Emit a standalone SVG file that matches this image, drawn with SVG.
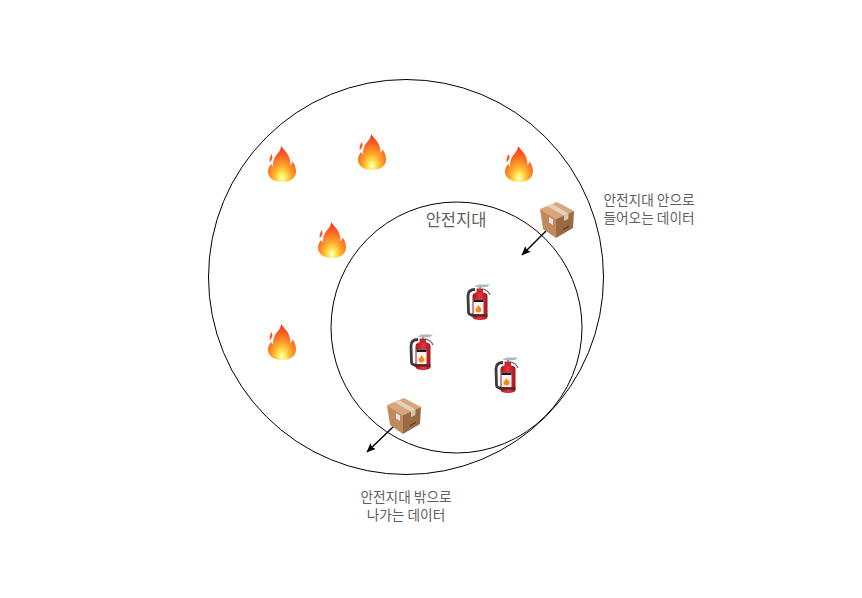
<svg xmlns="http://www.w3.org/2000/svg" width="862" height="598" viewBox="0 0 862 598">
<style>
.ring{fill:none;stroke:#000;stroke-width:1}
.wire{fill:none;stroke:#000;stroke-width:1.400;marker-end:url(#arrow)}
text{font-family:"Noto Sans CJK KR","Noto Sans",sans-serif;fill:#5f5f5f;text-anchor:middle}
.lbl{font-size:13.700px}
.title{font-size:16.500px}
</style>
<defs>
<marker id="arrow" markerWidth="10" markerHeight="10" refX="8.500" refY="4" orient="auto" markerUnits="userSpaceOnUse"><path d="M0 0L9 4L0 8L1.500 4Z" fill="#000"/></marker>
<radialGradient id="fg" gradientUnits="userSpaceOnUse" cx="14" cy="32" r="32" gradientTransform="translate(14 32) scale(.72 1) translate(-14 -32)">
<stop offset="0" stop-color="#fffff0"/><stop offset=".14" stop-color="#ffee58"/><stop offset=".36" stop-color="#ffb02e"/><stop offset=".66" stop-color="#fb6a22"/><stop offset="1" stop-color="#ee2f1e"/>
</radialGradient>
<g id="flame">
<path fill="url(#fg)" d="M13 0C15 3 17.500 5 19.500 8C21.500 11 22.500 15 22.500 19C23.800 18 24.300 16.500 24.500 15.500C26.800 18.500 28 22 28 25.500C28 32 22 36 14 36C6 36 0 32 0 25.500C0 22.500 1.500 20.500 3 18C4 19.500 4.500 20 5 20.500C4.800 16 6 12.500 8 9.500C10.500 6.500 13 4 13 0Z"/>
<path fill="#f6561f" d="M3.500 8C4 9.500 4.800 10.500 4.300 12.500C3.800 14 2.500 15 1.800 16.500C1.300 14 1.800 11 3.500 8Z"/>
</g>
<linearGradient id="rb" x1="0" x2="1" y1="0" y2="0"><stop offset="0" stop-color="#a5141c"/><stop offset=".5" stop-color="#e8343c"/><stop offset="1" stop-color="#a5141c"/></linearGradient>
<g id="ext">
<path d="M9 5.500C5 5.500 2 7.500 2 12L2.500 28C2.500 30 4.500 31 7 31" fill="none" stroke="#3c3c3c" stroke-width="2.800"/>
<path d="M6.500 12C6.500 9 10 8 14 8C18 8 21.500 9 21.500 12L21.500 33C21.500 35 18 36 14 36C10 36 6.500 35 6.500 33Z" fill="url(#rb)"/>
<path d="M10.500 4.500H17V9H10.500Z" fill="#c9252c"/>
<path d="M8 2.500L13 .5H24L21 3L14 3.500Z" fill="#a9b8c4"/>
<path d="M17 5C20 6 22.500 7 24 11" fill="none" stroke="#5a6670" stroke-width="1.200"/>
<circle cx="14" cy="4" r="1" fill="#2ea84a"/>
<path d="M7.500 15.500H17.500V30H7.500Z" fill="#f6f4f2"/>
<path d="M7.500 15.500H17.500V18H7.500Z" fill="#1c1c1c"/>
<path d="M12.500 20.500C12.500 22.500 15.500 23.500 15.500 26C15.500 27.500 14 28.500 12.500 28.500C11 28.500 9.500 27.500 9.500 26C9.500 24 12 23.500 12.500 20.500Z" fill="#f58a1f"/>
<path d="M5 30.500H21.500V32.500H5Z" fill="#3a2c2c"/>
</g>
<g id="box">
<path d="M0 7L17 0L34 9L16 17Z" fill="#d9a679"/>
<path d="M0 7L16 17L16 36L3 27Z" fill="#c08a5c"/>
<path d="M16 17L34 9L33 26L16 36Z" fill="#9a6a42"/>
<path d="M7 4L24 13.500L28.500 11.500L12 2Z" fill="#e3d3bd"/>
<path d="M24 13.500L28.500 11.500L28.300 17L24 19Z" fill="#d8c7ae"/>
<path d="M9 15L13 17.500V23L9 20.500Z" fill="#e6e6ea"/>
<path d="M23 27L29 23.500V25L23 28.500Z" fill="#5b3b22"/>
</g>
</defs>
<rect width="862" height="598" fill="#fff"/>
<g id="zones">
<circle id="outer-zone" class="ring" cx="406" cy="277" r="197.500"/>
<circle id="safe-zone" class="ring" cx="456.500" cy="327.500" r="125.500"/>
</g>
<g id="flame-1"><use href="#flame" x="268" y="146"/></g>
<g id="flame-2"><use href="#flame" x="358" y="134"/></g>
<g id="flame-3"><use href="#flame" x="505" y="146"/></g>
<g id="flame-4"><use href="#flame" x="318" y="222"/></g>
<g id="flame-5"><use href="#flame" x="268" y="324"/></g>
<g id="ext-1"><use href="#ext" x="466" y="284"/></g>
<g id="ext-2"><use href="#ext" x="409" y="334"/></g>
<g id="ext-3"><use href="#ext" x="494" y="357"/></g>
<g id="box-in"><use href="#box" x="540" y="202"/></g>
<g id="box-out"><use href="#box" x="387" y="398"/></g>
<g id="connectors">
<path class="wire" d="M546 231L522 255"/>
<path class="wire" d="M393 427L367 452"/>
</g>
<g id="label-safe"><text class="title" x="456" y="226">안전지대</text></g>
<g id="label-in"><text class="lbl"><tspan x="649" y="205">안전지대 안으로</tspan><tspan x="649" y="222.500">들어오는 데이터</tspan></text></g>
<g id="label-out"><text class="lbl"><tspan x="406" y="502">안전지대 밖으로</tspan><tspan x="406" y="519.500">나가는 데이터</tspan></text></g>
</svg>
